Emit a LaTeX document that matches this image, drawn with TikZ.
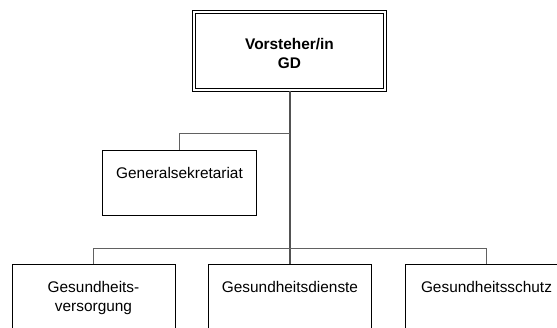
\documentclass[tikz,border=0pt]{standalone}
\usepackage{fontspec}
\setmainfont{Liberation Sans}
\begin{document}
\begin{tikzpicture}[x=1pt,y=-1pt,
  every node/.style={font=\fontsize{15.4}{19}\selectfont},
  unitbox/.style={draw=black,line width=0.9pt,inner sep=0pt,anchor=north},
  headbox/.style={draw=black,line width=0.9pt,double=white,double distance=2.2pt,inner sep=0pt},
  boxtext/.style={anchor=base,align=center,inner sep=0pt},
  link/.style={draw=black!62,line width=0.9pt},
  trunk/.style={draw=black!68,line width=1.3pt}]
\useasboundingbox (0,0) rectangle (557,327);
\clip (0,0) rectangle (557,327);
% head
\node[headbox,minimum width=191.5pt,minimum height=78.5pt] (head) at (289.5,51) {};
\node[boxtext,font=\fontsize{15.4}{19}\selectfont\bfseries] (headt) at (289.5,68.3) {Vorsteher/in\\GD};
% staff unit
\node[unitbox,minimum width=154.4pt,minimum height=65pt] (gs) at (179.5,150) {};
\node[boxtext] (gst) at (179.5,178.3) {Generalsekretariat};
% bottom units
\node[unitbox,minimum width=163pt,minimum height=80pt] (gv) at (93.5,264) {};
\node[unitbox,minimum width=163pt,minimum height=80pt] (gd) at (290,264) {};
\node[unitbox,minimum width=163pt,minimum height=80pt] (gz) at (486.5,264) {};
\node[boxtext] (gvt) at (93.5,311.6) {Gesundheits-\\versorgung};
\node[boxtext] (gdt) at (290,292.6) {Gesundheitsdienste};
\node[boxtext] (gzt) at (486.5,292.6) {Gesundheitsschutz};
% connectors
\coordinate (j1) at (290,133);
\coordinate (bus) at (290,248.3);
\draw[trunk] (head.south -| gd.north) -- (gd.north);
\draw[link] (j1) -| (gs.north);
\draw[link] (bus) -| (gv.north);
\draw[link] (bus) -| (gz.north);
\end{tikzpicture}
\end{document}
